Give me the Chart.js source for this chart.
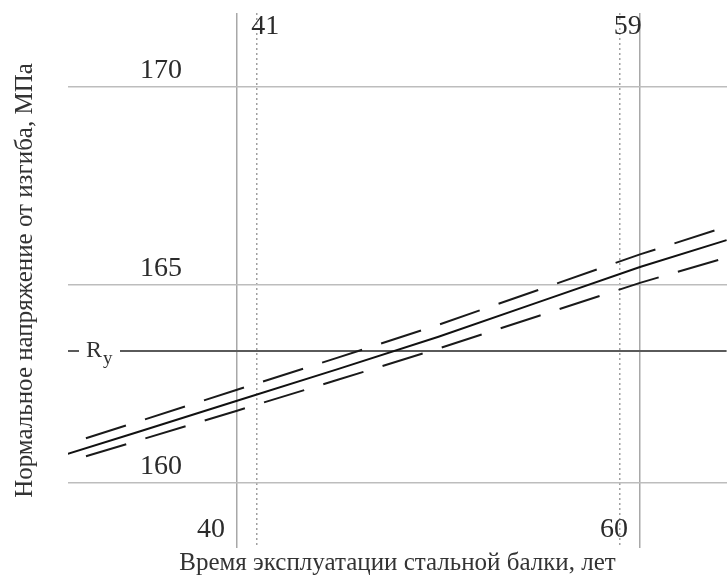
<!DOCTYPE html>
<html>
<head>
<meta charset="utf-8">
<script src="https://cdn.jsdelivr.net/npm/chart.js@4.4.0/dist/chart.umd.min.js"></script>
<style>
  body { margin: 0; background: #fff; }
  #wrap { width: 727px; height: 578px; }
</style>
</head>
<body>
<div id="wrap"><canvas id="stressChart"></canvas></div>
<script>
// Годы эксплуатации и напряжения (МПа)
const years = [31.6, 35, 40, 45, 50, 55, 60, 64.3];
const stressMean = [160.73, 161.27, 162.07, 162.87, 163.69, 164.57, 165.45, 166.13];
const stressUpper = [160.98, 161.53, 162.35, 163.16, 163.99, 164.88, 165.77, 166.47];
const stressLower = [160.53, 161.05, 161.82, 162.60, 163.39, 164.22, 165.05, 165.69];
const ryValue = 163.33;

// Подписи осей
const yTicks = [160, 165, 170];
const xTicks = [40, 60];
const xMarks = [41, 59];

const toPoints = (ys) => years.map((yr, i) => ({ x: yr, y: ys[i] }));

const serif = '"Liberation Serif", "DejaVu Serif", serif';

// подписи делений рисуем сами, там где они стоят на рисунке
const tickText = {
  id: "tickText",
  afterDatasetsDraw(chart) {
    const { ctx, chartArea, scales } = chart;
    const x = scales.x;
    const y = scales.y;
    ctx.save();
    ctx.font = "28px " + serif;
    ctx.fillStyle = "#2b2b2b";
    ctx.textAlign = "center";
    ctx.textBaseline = "middle";
    yTicks.forEach((v) => ctx.fillText(String(v), 161, y.getPixelForValue(v) - 16));
    xTicks.forEach((v) => ctx.fillText(String(v), x.getPixelForValue(v) - 26, chartArea.bottom - 18));
    xMarks.forEach((v) => ctx.fillText(String(v), x.getPixelForValue(v) + 8, chartArea.top + 14));

    // R_y
    const ry = y.getPixelForValue(ryValue);
    ctx.fillStyle = "#fff";
    ctx.fillRect(79, ry - 14, 41, 30);
    ctx.fillStyle = "#333";
    ctx.textAlign = "left";
    ctx.textBaseline = "alphabetic";
    ctx.font = "24px " + serif;
    ctx.fillText("R", 86, ry + 6);
    ctx.font = "19px " + serif;
    ctx.fillText("y", 103, ry + 13);
    ctx.restore();
  },
};

const ctx = document.getElementById("stressChart").getContext("2d");
const stressChart = new Chart(ctx, {
  type: "line",
  data: {
    datasets: [
      {
        label: "Среднее",
        data: toPoints(stressMean),
        borderColor: "#111",
        borderWidth: 2,
        pointRadius: 0,
        tension: 0,
      },
      {
        label: "Верхняя граница",
        data: toPoints(stressUpper),
        borderColor: "#1a1a1a",
        borderWidth: 2,
        borderDash: [42, 20],
        borderDashOffset: 43,
        pointRadius: 0,
        tension: 0,
      },
      {
        label: "Нижняя граница",
        data: toPoints(stressLower),
        borderColor: "#1a1a1a",
        borderWidth: 2,
        borderDash: [42, 20],
        borderDashOffset: 43,
        pointRadius: 0,
        tension: 0,
      },
      {
        label: "Ry",
        data: [
          { x: years[0], y: ryValue },
          { x: years[years.length - 1], y: ryValue },
        ],
        borderColor: "#5a5a5a",
        borderWidth: 2,
        pointRadius: 0,
      },
    ],
  },
  options: {
    responsive: true,
    maintainAspectRatio: false,
    animation: false,
    layout: { padding: { left: 9, top: 13, right: 0, bottom: 0 } },
    plugins: {
      legend: { display: false },
      tooltip: { enabled: false },
    },
    scales: {
      x: {
        type: "linear",
        min: 31.61,
        max: 64.32,
        afterBuildTicks: (scale) => {
          scale.ticks = xTicks.map((v) => ({ value: v }));
        },
        ticks: { display: false },
        grid: { color: "#a8a8a8", lineWidth: 1.5, drawTicks: false },
        border: { display: false },
        title: {
          display: true,
          text: "Время эксплуатации стальной балки, лет",
          color: "#333",
          font: { family: serif, size: 25 },
          padding: { top: 0, bottom: 0 },
        },
      },
      x2: {
        type: "linear",
        position: "top",
        min: 31.61,
        max: 64.32,
        afterBuildTicks: (scale) => {
          scale.ticks = xMarks.map((v) => ({ value: v }));
        },
        ticks: { display: false },
        grid: { color: "#a0a0a0", lineWidth: 1.5, drawTicks: false, borderDash: [2, 3] },
        border: { display: false, dash: [2, 3] },
      },
      y: {
        min: 158.35,
        max: 171.87,
        afterBuildTicks: (scale) => {
          scale.ticks = yTicks.map((v) => ({ value: v }));
        },
        ticks: { display: false },
        grid: { color: "#bdbdbd", lineWidth: 1.5, drawTicks: false },
        border: { display: false },
        title: {
          display: true,
          text: "Нормальное напряжение от изгиба, МПа",
          color: "#333",
          font: { family: serif, size: 25 },
          padding: { top: 1, bottom: 28 },
        },
      },
    },
  },
  plugins: [tickText],
});
</script>
</body>
</html>
